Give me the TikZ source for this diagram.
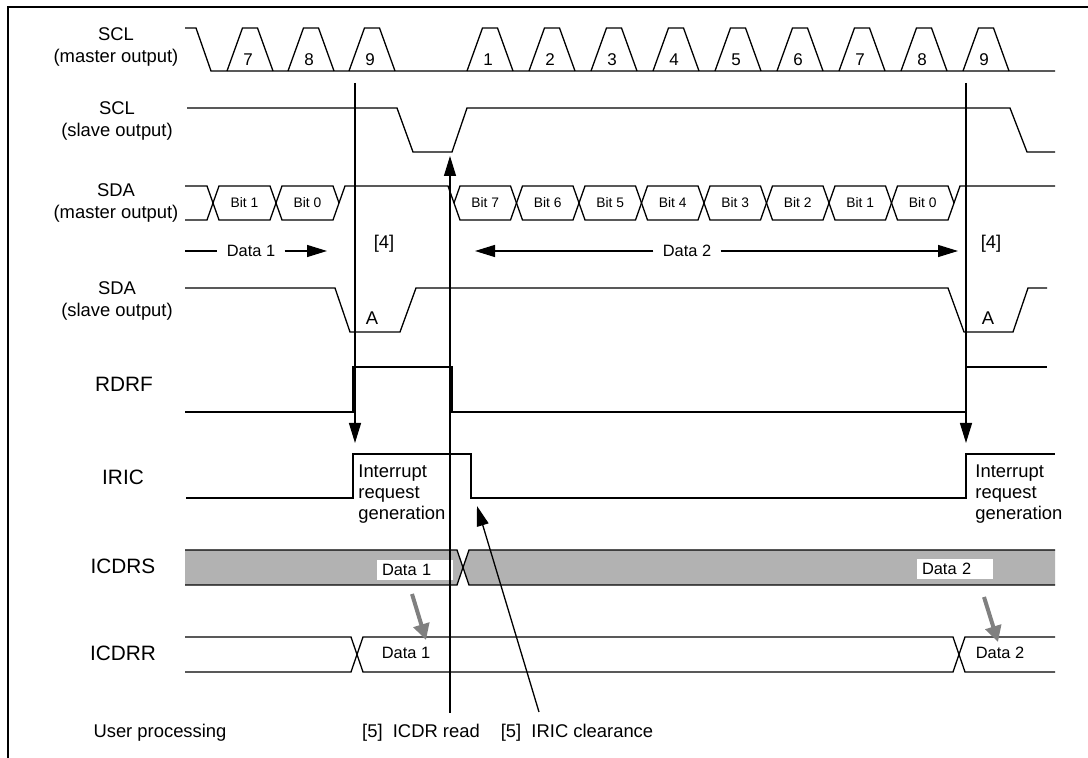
\documentclass[tikz,border=0pt]{standalone}
\usepackage{fontspec}
\setmainfont{Liberation Sans}
\usetikzlibrary{arrows.meta, positioning}
\tikzset{
    wave/.style={line width=0.65pt, line join=miter},
    siglabel/.style={align=center, font=\fontsize{9.2}{11}\selectfont},
    reglabel/.style={font=\fontsize{10.4}{12}\selectfont},
    note/.style={font=\fontsize{9.2}{10.5}\selectfont},
    clknum/.style={font=\fontsize{8.5}{9}\selectfont, inner sep=0pt},
    bitlabel/.style={font=\fontsize{6.9}{8}\selectfont, inner sep=0pt},
    datalabel/.style={font=\fontsize{8.2}{9}\selectfont, inner xsep=4.5pt},
    databox/.style={font=\fontsize{8.2}{9}\selectfont, fill=white, text width=33pt, align=left, inner xsep=2.5pt, inner ysep=0pt, minimum height=10pt},
    arrow/.style={line width=0.65pt, -{Triangle[length=10pt,width=6pt]}},
    grayarrow/.style={line width=2pt, draw=black!50, -{Triangle[length=8pt,width=8pt]}},
    regfill/.style={fill=black!30}
}
\begin{document}
\begin{tikzpicture}[x=0.5pt, y=-0.5pt]
    \useasboundingbox (0,0) rectangle (1088,758);
    \draw[line width=0.6pt] (8,758) -- (8,7) -- (1088,7);

    % signal names
    \node (sclm) [siglabel] at (116,47) {SCL\\(master output)};
    \node (scls) [siglabel] at (117,121) {SCL\\(slave output)};
    \node (sdam) [siglabel] at (116,203) {SDA\\(master output)};
    \node (sdas) [siglabel] at (117,301) {SDA\\(slave output)};
    \node (rdrf) [reglabel] at (124,384) {RDRF};
    \node (iric) [reglabel] at (123,477) {IRIC};
    \node (icdrs) [reglabel] at (123,566) {ICDRS};
    \node (icdrr) [reglabel] at (123,653) {ICDRR};
    \node (user) [note] at (160,733) {User processing};

    % SCL (master output)
    \draw[wave] (185,28) -- (196,28) -- (211,71) -- (1055,71);
    \foreach \c/\n in {250/7, 311/8, 372/9} {
        \draw[wave] (\c-23,71) -- (\c-7.5,28) -- (\c+7.5,28) -- (\c+23,71);
        \node (pa\n) [clknum] at (\c-2,60) {\n};
    }
    \foreach \n [evaluate=\n as \c using 428+62*\n] in {1,...,9} {
        \draw[wave] (\c-23,71) -- (\c-7.5,28) -- (\c+7.5,28) -- (\c+23,71);
        \node (pb\n) [clknum] at (\c-2,60) {\n};
    }

    % SCL (slave output)
    \draw[wave] (187,108) -- (397,108) -- (413,152) -- (452,152) -- (467,108) -- (1010,108) -- (1027,152) -- (1055,152);

    % SDA (master output)
    \draw[wave] (185,186) -- (207,186) -- (213,203) -- (207,220) -- (185,220);
    \foreach \l/\b in {213/1, 276/0} {
        \draw[wave] (\l,203) -- (\l+6,186) -- (\l+57,186) -- (\l+63,203) -- (\l+57,220) -- (\l+6,220) -- cycle;
        \node (ba\b) [bitlabel] at (\l+31.5,203) {Bit \b};
    }
    \draw[wave] (339,203) -- (345,186) -- (448,186) -- (454,203);
    \foreach \k [evaluate=\k as \l using 454+62.5*\k, evaluate=\k as \b using int(7-\k)] in {0,...,7} {
        \draw[wave] (\l,203) -- (\l+6,186) -- (\l+56.5,186) -- (\l+62.5,203) -- (\l+56.5,220) -- (\l+6,220) -- cycle;
        \node (bb\b) [bitlabel] at (\l+31.25,203) {Bit \b};
    }
    \draw[wave] (954,203) -- (960,186) -- (1055,186);

    % data ranges
    \node (d1) [datalabel] at (251,251) {Data 1};
    \coordinate (d1s) at (185,251);
    \coordinate (d1e) at (327,251);
    \draw[wave] (d1s) -- (d1);
    \draw[arrow] (d1) -- (d1e);
    \node (d2) [datalabel] at (687,251) {Data 2};
    \coordinate (d2l) at (475,251);
    \coordinate (d2r) at (958,251);
    \draw[arrow] (d2) -- (d2l);
    \draw[arrow] (d2) -- (d2r);
    \node (s4a) [note] at (384,244) {[4]};
    \node (s4b) [note] at (991,244) {[4]};

    % SDA (slave output)
    \draw[wave] (185,288) -- (335,288) -- (350,332) -- (400,332) -- (416,288) -- (948,288) -- (964,332) -- (1013,332) -- (1028,288) -- (1047,288);
    \node (acka) [note] at (372,318) {A};
    \node (ackb) [note] at (988,318) {A};

    % RDRF
    \draw[wave] (185,412) -- (353,412) -- (353,367) -- (452,367) -- (452,412) -- (966,412) -- (966,367) -- (1047,367);

    % IRIC
    \draw[wave] (186,498) -- (353,498) -- (353,454) -- (471,454) -- (471,498) -- (966,498) -- (966,454) -- (1055,454);
    \node (irqa) [note, align=left, anchor=north west, inner sep=0pt] at (358,464) {Interrupt\\request\\generation};
    \node (irqb) [note, align=left, anchor=north west, inner sep=0pt] at (975,464) {Interrupt\\request\\generation};

    % ICDRS
    \fill[regfill] (185,550) -- (457,550) -- (463,567.5) -- (457,585) -- (185,585) -- cycle;
    \fill[regfill] (1055,550) -- (469,550) -- (463,567.5) -- (469,585) -- (1055,585) -- cycle;
    \draw[wave] (185,550) -- (457,550) -- (469,585) -- (1055,585);
    \draw[wave] (185,585) -- (457,585) -- (469,550) -- (1055,550);
    \node (s1) [databox] at (415,570) {Data 1};
    \node (s2) [databox] at (955,569) {Data 2};

    % ICDRR
    \draw[wave] (185,637) -- (351,637) -- (363,672) -- (953,672) -- (965,637) -- (1055,637);
    \draw[wave] (185,672) -- (351,672) -- (363,637) -- (953,637) -- (965,672) -- (1055,672);
    \node (r1) [datalabel] at (406,653) {Data 1};
    \node (r2) [datalabel] at (1000,653) {Data 2};

    % transfers ICDRS -> ICDRR
    \coordinate (g1a) at (412,594);
    \coordinate (g1b) at (426,640);
    \coordinate (g2a) at (984,597);
    \coordinate (g2b) at (998,642);
    \draw[grayarrow] (g1a) -- (g1b);
    \draw[grayarrow] (g2a) -- (g2b);

    % timing markers
    \coordinate (v1a) at (355,83);
    \coordinate (v1b) at (355,443);
    \coordinate (v2a) at (450,713);
    \coordinate (v2b) at (450,156);
    \coordinate (v3a) at (966,83);
    \coordinate (v3b) at (966,443);
    \coordinate (c1a) at (539,712);
    \coordinate (c1b) at (477,506);
    \draw[arrow] (v1a) -- (v1b);
    \draw[arrow] (v2a) -- (v2b);
    \draw[arrow] (v3a) -- (v3b);
    \draw[arrow] (c1a) -- (c1b);

    \node (rd5) [note] at (421,733) {[5]~~ICDR read};
    \node (ic5) [note] at (577,733) {[5]~~IRIC clearance};
\end{tikzpicture}
\end{document}
